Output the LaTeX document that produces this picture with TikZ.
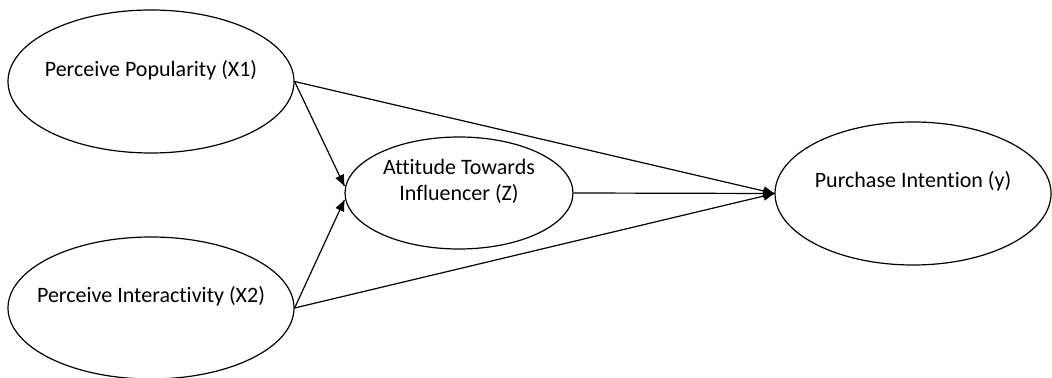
\documentclass[tikz,border=0pt]{standalone}
\usepackage{fontspec}
\setmainfont{Carlito}[Ligatures=NoCommon]
\usetikzlibrary{arrows.meta}
\usetikzlibrary{decorations.markings}
\usetikzlibrary{shapes.geometric}
\tikzset{->/.style = {decoration={markings,
                                  mark=at position 1 with {\arrow{Triangle[length=5.5pt,width=4.5pt]}}},
                      postaction={decorate}}}
\tikzset{latent/.style = {draw, ellipse, inner sep=0pt}}

\begin{document}
\begin{tikzpicture}[x=0.5pt, y=-0.5pt, line width=0.6pt, font=\fontsize{11}{13}\selectfont]
	\useasboundingbox (0,0) rectangle (1052,378);
	\node [latent, minimum width=143pt, minimum height=71.5pt] (x1) at (151,81.5) {};
	\node (x1txt) at ([yshift=5.5pt]x1.center) {Perceive Popularity (X1)};
	\node [latent, minimum width=143pt, minimum height=71pt] (x2) at (151,308) {};
	\node (x2txt) at ([yshift=6pt]x2.center) {Perceive Interactivity (X2)};
	\node [latent, minimum width=114pt, minimum height=56pt] (z) at (459,193) {};
	\node [align=center] (ztxt) at ([yshift=6pt]z.center) {Attitude Towards\\Influencer (Z)};
	\node [latent, minimum width=138pt, minimum height=71.5pt] (y) at (913,193.5) {};
	\node (ytxt) at ([yshift=6pt]y.center) {Purchase Intention (y)};
	% paths
	\draw [->] (x1.east) -- ([yshift=3.5pt]z.west);
	\draw [->] (x2.east) -- ([yshift=-3.5pt]z.west);
	\draw [->] (x1.east) -- (y.west);
	\draw [->] (x2.east) -- (y.west);
	\draw [->] (z.east) -- (y.west);
\end{tikzpicture}
\end{document}
